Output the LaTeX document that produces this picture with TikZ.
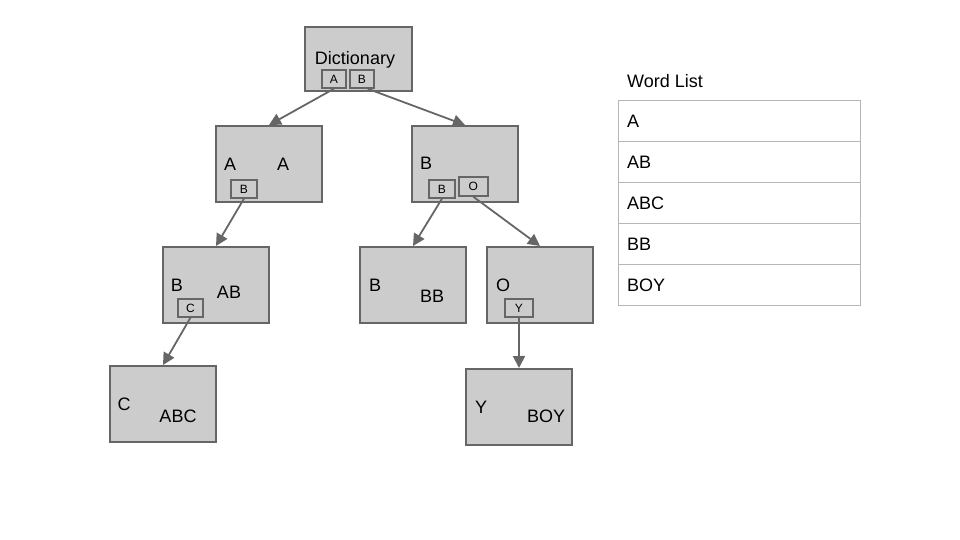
\documentclass[tikz,border=0pt]{standalone}
\usepackage{fontspec}
\setmainfont{Liberation Sans}
\usetikzlibrary{arrows.meta}
\definecolor{boxfill}{HTML}{CCCCCC}
\definecolor{boxline}{HTML}{666666}
\definecolor{tabline}{HTML}{B7B7B7}
\begin{document}
\begin{tikzpicture}[x=1pt,y=-1pt,
  tnode/.style={draw=boxline,fill=boxfill,line width=2pt,minimum width=106pt,minimum height=76pt,inner sep=0pt,anchor=north west},
  kbox/.style={draw=boxline,fill=boxfill,line width=1.8pt,minimum height=18pt,inner sep=0pt,font=\fontsize{12}{12}\selectfont,anchor=north west},
  big/.style={font=\fontsize{18}{18}\selectfont,inner sep=0pt},
  conn/.style={draw=boxline,line width=1.8pt,-{Triangle[length=12pt,width=12pt]}},
  cell/.style={draw=tabline,line width=0.8pt,minimum width=242pt,minimum height=41pt,inner sep=0pt,anchor=north west},
  celltext/.style={font=\fontsize{18}{18}\selectfont,inner sep=0pt,anchor=west}]
\useasboundingbox (0,0) rectangle (960,540);
% root
\node[tnode,minimum width=107pt,minimum height=64pt] (root) at (304,26) {};
\node[big] (rootlab) at (355,60) {Dictionary};
\node[kbox,minimum width=24pt] (rA) at (321,69) {A};
\node[kbox,minimum width=24pt] (rB) at (349,69) {B};
% level 1
\node[tnode] (nA) at (215,125) {};
\node[big] (nAl) at (230,164) {A};
\node[big] (nAw) at (283,164) {A};
\node[kbox,minimum width=26pt] (nAB) at (230,179) {B};
\node[tnode] (nB) at (411,125) {};
\node[big] (nBl) at (426,163) {B};
\node[kbox,minimum width=26pt] (nBB) at (428,179) {B};
\node[kbox,minimum width=29pt,minimum height=19pt] (nBO) at (458,176) {O};
% level 2
\node[tnode] (nAB2) at (162,246) {};
\node[big] (nAB2l) at (177,285) {B};
\node[big] (nAB2w) at (229,292) {AB};
\node[kbox,minimum width=25pt] (nABC) at (177,298) {C};
\node[tnode] (nBB2) at (359,246) {};
\node[big] (nBB2l) at (375,285) {B};
\node[big] (nBB2w) at (432,296) {BB};
\node[tnode] (nBO2) at (486,246) {};
\node[big] (nBO2l) at (503,285) {O};
\node[kbox,minimum width=28pt] (nBOY) at (504,298) {Y};
% level 3
\node[tnode] (nABC2) at (109,365) {};
\node[big] (nABC2l) at (124,404) {C};
\node[big] (nABC2w) at (178,416) {ABC};
\node[tnode] (nBOY2) at (465,368) {};
\node[big] (nBOY2l) at (481,407) {Y};
\node[big] (nBOY2w) at (546,416) {BOY};
% connectors
\draw[conn] (rA.south) -- (nA.north);
\draw[conn] (rB.south east) ++(-7,0) -- (nB.north);
\draw[conn] (nAB.south) -- (nAB2.north);
\draw[conn] (nBB.south) -- (nBB2.north);
\draw[conn] (nBO.south) -- (nBO2.north);
\draw[conn] (nABC.south) -- (nABC2.north);
\draw[conn] (nBOY.south) -- (nBOY2.north);
% word list
\node[big,anchor=west] (wl) at (627,81) {Word List};
\node[cell] (c1) at (618,100) {};
\node[cell] (c2) at (618,141) {};
\node[cell] (c3) at (618,182) {};
\node[cell] (c4) at (618,223) {};
\node[cell] (c5) at (618,264) {};
\node[celltext] at ([xshift=9pt]c1.west) {A};
\node[celltext] at ([xshift=9pt]c2.west) {AB};
\node[celltext] at ([xshift=9pt]c3.west) {ABC};
\node[celltext] at ([xshift=9pt]c4.west) {BB};
\node[celltext] at ([xshift=9pt]c5.west) {BOY};
\end{tikzpicture}
\end{document}
